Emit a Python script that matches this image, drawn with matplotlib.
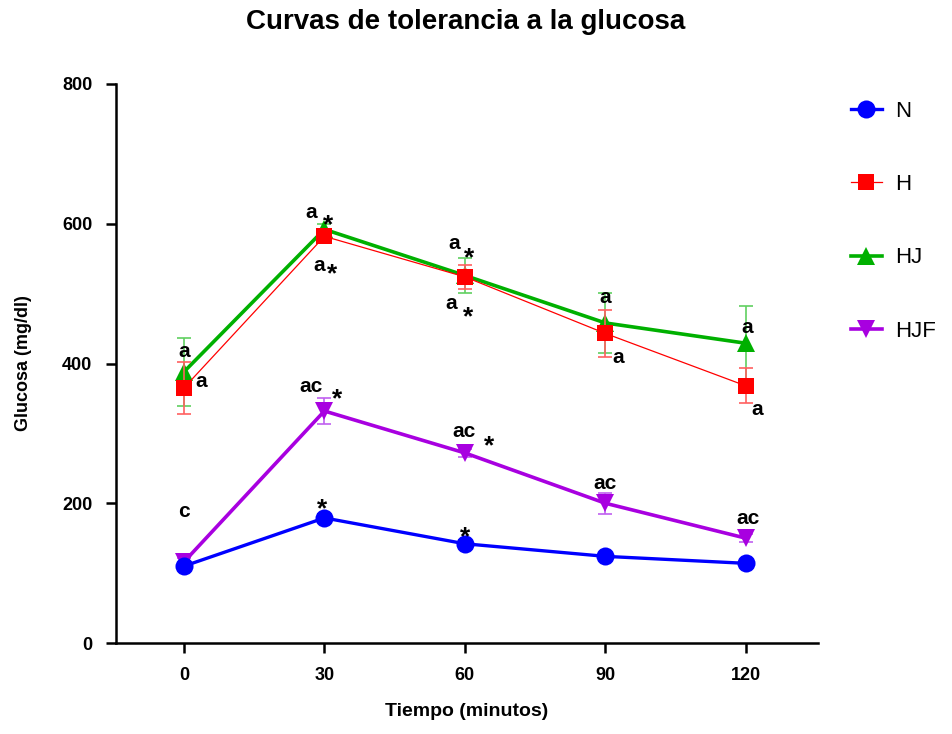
import matplotlib
matplotlib.use("Agg")
import matplotlib.pyplot as plt

# ---- data ----
time_min = [0, 30, 60, 90, 120]
series_names = ["N", "H", "HJ", "HJF"]
N_mean = [110, 179, 142, 124, 114]
N_err = [4, 6, 5, 4, 4]
H_mean = [365, 582, 524, 443, 368]
H_err = [37, 8, 17, 34, 25]
HJ_mean = [388, 592, 526, 458, 429]
HJ_err = [49, 8, 25, 43, 53]
HJF_mean = [116, 332, 272, 200, 150]
HJF_err = [5, 18, 6, 15, 6]

# significance letters and stars per point
N_letters = ["", "", "", "", ""]
N_stars = [False, True, True, False, False]
H_letters = ["a", "a", "a", "a", "a"]
H_stars = [False, True, True, False, False]
HJ_letters = ["a", "a", "a", "a", "a"]
HJ_stars = [False, True, True, False, False]
HJF_letters = ["c", "ac", "ac", "ac", "ac"]
HJF_stars = [False, True, True, False, False]

y_ticks = [0, 200, 400, 600, 800]
x_ticks = [0, 30, 60, 90, 120]

# ---- layout / style ----
W, H = 953, 734
fig = plt.figure(figsize=(W / 100, H / 100), dpi=100)
ax = fig.add_axes([116 / W, 1 - 643 / H, (818 - 116) / W, (643 - 84) / H])

FONT = "Liberation Sans"
styles = {
    "N": dict(color="#0000FF", marker="o", ms=13, lw=2.4, ecolor="#0000FF"),
    "H": dict(color="#FF0000", marker="s", ms=12, lw=0.9, ecolor="#FF6060"),
    "HJ": dict(color="#00B000", marker="^", ms=13, lw=2.6, ecolor="#60D060"),
    "HJF": dict(color="#A800E0", marker="v", ms=13, lw=2.6, ecolor="#C060F0"),
}
data = {
    "N": (N_mean, N_err, N_letters, N_stars),
    "H": (H_mean, H_err, H_letters, H_stars),
    "HJ": (HJ_mean, HJ_err, HJ_letters, HJ_stars),
    "HJF": (HJF_mean, HJF_err, HJF_letters, HJF_stars),
}
order = ["N", "HJF", "HJ", "H"]
zorders = {"N": 4, "HJF": 3, "HJ": 5, "H": 6}
handles = {}
for name in order:
    m, e, _, _ = data[name]
    s = styles[name]
    cont = ax.errorbar(time_min, m, yerr=e, color=s["color"], marker=s["marker"],
                       markersize=s["ms"], linewidth=s["lw"], ecolor=s["ecolor"],
                       elinewidth=1.2, capsize=5, capthick=1.2,
                       zorder=zorders[name], clip_on=False)
    cont[0].set_markeredgewidth(0)
    handles[name] = cont[0]

# annotation offsets (pixels): letters (dx, dy), star (dx, dy)
letter_off = {
    "N": [None, None, None, None, None],
    "H": [(17, 6), (-5, -29), (-14, -27), (13, -24), (11, -24)],
    "HJ": [(0, 20), (-13, 17), (-11, 32), (0, 25), (1, 16)],
    "HJF": [(0, 50), (-13, 25), (-1, 21), (0, 20), (2, 20)],
}
star_off = {
    "N": [None, (-2, 15), (0, 12), None, None],
    "H": [None, (8, -32), (3, -34), None, None],
    "HJ": [None, (4, 10), (4, 23), None, None],
    "HJF": [None, (13, 18), (24, 13), None, None],
}
for name in series_names:
    m, e, letters, stars = data[name]
    for i, t in enumerate(time_min):
        if letters[i]:
            dx, dy = letter_off[name][i]
            ax.annotate(letters[i], (t, m[i]), xytext=(dx, dy), textcoords="offset pixels",
                        ha="center", va="center", fontsize=15, fontweight="bold",
                        family=FONT, zorder=10, annotation_clip=False)
        if stars[i]:
            dx, dy = star_off[name][i]
            ax.annotate("*", (t, m[i]), xytext=(dx, dy - 6), textcoords="offset pixels",
                        ha="center", va="center", fontsize=19, fontweight="bold",
                        family=FONT, zorder=10, annotation_clip=False)

ax.set_xlim(-14.5, 135.4)
ax.set_ylim(0, 800)
ax.set_xticks(x_ticks)
ax.set_yticks(y_ticks)
ax.set_xticklabels([str(v) for v in x_ticks], fontsize=13, fontweight="bold", family=FONT)
ax.set_yticklabels([str(v) for v in y_ticks], fontsize=13, fontweight="bold", family=FONT)
for sp in ["top", "right"]:
    ax.spines[sp].set_visible(False)
for sp in ["left", "bottom"]:
    ax.spines[sp].set_linewidth(1.8)
ax.tick_params(direction="out", length=7, width=1.8, pad=10)
ax.set_xlabel("Tiempo (minutos)", fontsize=14, fontweight="bold", family=FONT, labelpad=14)
ax.set_ylabel("Glucosa (mg/dl)", fontsize=13, fontweight="bold", family=FONT, labelpad=22)

fig.text(466 / W, 1 - 22 / H, "Curvas de tolerancia a la glucosa", ha="center", va="center",
         fontsize=20, fontweight="bold", family=FONT)

leg = fig.legend([handles[n] for n in series_names], series_names, loc="upper left",
                 bbox_to_anchor=(842 / W, 1 - 92 / H), frameon=False,
                 prop=dict(family=FONT, size=16), labelspacing=2.35, handlelength=1.4,
                 handletextpad=0.6, borderaxespad=0)

fig.savefig("out.png", dpi=100)
